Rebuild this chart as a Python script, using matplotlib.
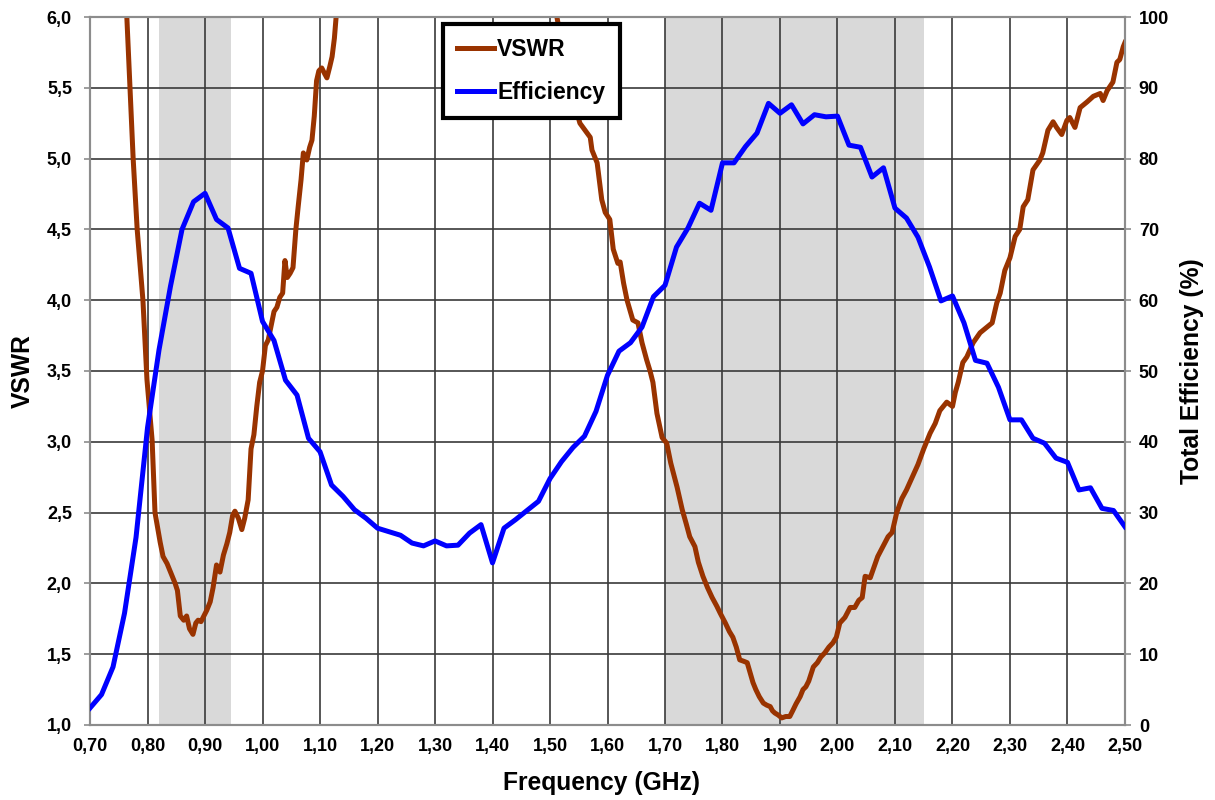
import numpy as np
import matplotlib
matplotlib.use('Agg')
import matplotlib.pyplot as plt
from matplotlib.ticker import FuncFormatter, MultipleLocator

plt.rcParams['font.family'] = ['Liberation Sans', 'DejaVu Sans']
plt.rcParams['font.weight'] = 'bold'

# VSWR (левая ось)
vswr_freq = [0.700, 0.730, 0.755, 0.764, 0.775, 0.782, 0.792, 0.799, 0.808, 0.813,
             0.822, 0.827, 0.834, 0.848, 0.852, 0.857, 0.863, 0.868, 0.873, 0.879,
             0.884, 0.888, 0.893, 0.903, 0.909, 0.914, 0.920, 0.926, 0.932, 0.938,
             0.943, 0.948, 0.952, 0.958, 0.964, 0.969, 0.975, 0.980, 0.985, 0.990,
             0.995, 1.000, 1.005, 1.010, 1.015, 1.020, 1.025, 1.030, 1.035, 1.039,
             1.043, 1.048, 1.053, 1.058, 1.062, 1.067, 1.071, 1.077, 1.082, 1.086,
             1.090, 1.094, 1.098, 1.103, 1.108, 1.112, 1.117, 1.121, 1.125, 1.128,
             1.140, 1.250, 1.400, 1.500, 1.512, 1.530, 1.545, 1.552, 1.561, 1.570,
             1.573, 1.582, 1.590, 1.596, 1.604, 1.610, 1.618, 1.622, 1.628, 1.634,
             1.644, 1.653, 1.660, 1.668, 1.674, 1.679, 1.686, 1.695, 1.703, 1.710,
             1.721, 1.730, 1.737, 1.743, 1.752, 1.758, 1.766, 1.774, 1.782, 1.790,
             1.796, 1.805, 1.812, 1.818, 1.824, 1.830, 1.837, 1.843, 1.848, 1.853,
             1.858, 1.864, 1.871, 1.877, 1.883, 1.887, 1.891, 1.897, 1.903, 1.910,
             1.917, 1.922, 1.928, 1.935, 1.940, 1.945, 1.950, 1.958, 1.965, 1.971,
             1.978, 1.985, 1.992, 1.998, 2.004, 2.013, 2.022, 2.030, 2.037, 2.043,
             2.048, 2.057, 2.064, 2.070, 2.079, 2.088, 2.095, 2.103, 2.112, 2.120,
             2.130, 2.140, 2.150, 2.161, 2.170, 2.178, 2.190, 2.200, 2.205, 2.210,
             2.218, 2.225, 2.236, 2.248, 2.260, 2.269, 2.277, 2.283, 2.291, 2.300,
             2.309, 2.317, 2.323, 2.331, 2.340, 2.352, 2.357, 2.366, 2.375, 2.381,
             2.390, 2.399, 2.404, 2.413, 2.422, 2.434, 2.445, 2.457, 2.462, 2.469,
             2.479, 2.486, 2.491, 2.497, 2.500]
vswr_vals = [9.50, 8.00, 6.70, 6.00, 5.00, 4.50, 4.00, 3.44, 3.01, 2.50,
             2.29, 2.19, 2.14, 2.00, 1.95, 1.77, 1.74, 1.77, 1.68, 1.64,
             1.72, 1.74, 1.73, 1.81, 1.87, 1.97, 2.13, 2.08, 2.20, 2.28,
             2.36, 2.48, 2.51, 2.46, 2.38, 2.46, 2.59, 2.95, 3.05, 3.25,
             3.42, 3.50, 3.68, 3.72, 3.82, 3.92, 3.95, 4.02, 4.05, 4.28,
             4.16, 4.19, 4.23, 4.50, 4.66, 4.85, 5.04, 4.99, 5.08, 5.13,
             5.30, 5.55, 5.62, 5.64, 5.60, 5.57, 5.65, 5.72, 5.85, 6.00,
             6.60, 9.00, 9.00, 6.30, 6.00, 5.60, 5.35, 5.25, 5.20, 5.15,
             5.06, 4.97, 4.71, 4.62, 4.57, 4.36, 4.26, 4.27, 4.12, 4.00,
             3.86, 3.84, 3.70, 3.58, 3.50, 3.42, 3.20, 3.03, 2.99, 2.85,
             2.68, 2.52, 2.42, 2.33, 2.26, 2.15, 2.05, 1.97, 1.90, 1.84,
             1.79, 1.72, 1.66, 1.62, 1.55, 1.46, 1.45, 1.44, 1.37, 1.30,
             1.25, 1.20, 1.155, 1.14, 1.13, 1.10, 1.085, 1.07, 1.05, 1.06,
             1.06, 1.10, 1.15, 1.20, 1.25, 1.27, 1.31, 1.41, 1.44, 1.48,
             1.51, 1.55, 1.58, 1.62, 1.72, 1.76, 1.83, 1.83, 1.88, 1.90,
             2.05, 2.04, 2.12, 2.19, 2.26, 2.33, 2.36, 2.50, 2.60, 2.66,
             2.75, 2.84, 2.95, 3.06, 3.13, 3.22, 3.28, 3.25, 3.35, 3.42,
             3.56, 3.60, 3.70, 3.77, 3.81, 3.84, 3.98, 4.05, 4.21, 4.30,
             4.45, 4.50, 4.66, 4.71, 4.92, 4.99, 5.04, 5.20, 5.26, 5.22,
             5.17, 5.27, 5.29, 5.22, 5.36, 5.40, 5.44, 5.46, 5.41, 5.48,
             5.54, 5.68, 5.70, 5.79, 5.82]

# КПД (правая ось), шаг 0.02 ГГц
eff_freq = np.linspace(0.70, 2.50, 91)
eff_vals = [2.4, 4.3, 8.2, 15.8, 26.5, 42.0, 53.0, 62.0, 70.0, 73.9,
            75.1, 71.4, 70.2, 64.5, 63.8, 57.0, 54.3, 48.7, 46.6, 40.5,
            38.6, 33.9, 32.3, 30.4, 29.2, 27.8, 27.3, 26.8, 25.7, 25.3,
            26.0, 25.3, 25.4, 27.1, 28.3, 22.9, 27.8, 29.0, 30.3, 31.6,
            34.8, 37.2, 39.2, 40.8, 44.3, 49.4, 52.8, 54.0, 56.2, 60.5,
            62.1, 67.5, 70.2, 73.7, 72.7, 79.4, 79.4, 81.7, 83.6, 87.8,
            86.4, 87.6, 84.9, 86.2, 85.9, 86.0, 81.9, 81.6, 77.4, 78.7,
            73.0, 71.6, 68.9, 64.7, 59.9, 60.6, 56.8, 51.5, 51.1, 47.7,
            43.1, 43.1, 40.5, 39.8, 37.7, 37.1, 33.2, 33.5, 30.6, 30.3,
            28.0]

# Полосы частот
bands = [(0.82, 0.945), (1.70, 2.15)]

comma = lambda fmt: FuncFormatter(lambda v, p: (fmt % v).replace('.', ','))

fig = plt.figure(figsize=(12.15, 8), dpi=100)
ax1 = fig.add_axes([0.0741, 0.09375, 0.8518, 0.885])
ax2 = ax1.twinx()

for a, b in bands:
    ax1.axvspan(a, b, color='#d9d9d9', lw=0, zorder=0)

l1, = ax1.plot(vswr_freq, vswr_vals, color='#993300', lw=3.6, label='VSWR', zorder=3)
l2, = ax2.plot(eff_freq, eff_vals, color='#0000ff', lw=3.6, label='Efficiency', zorder=3)

ax1.set_xlim(0.70, 2.50)
ax1.set_ylim(1.0, 6.0)
ax2.set_ylim(0, 100)

ax1.xaxis.set_major_locator(MultipleLocator(0.1))
ax1.yaxis.set_major_locator(MultipleLocator(0.5))
ax2.yaxis.set_major_locator(MultipleLocator(10))
ax1.xaxis.set_major_formatter(comma('%.2f'))
ax1.yaxis.set_major_formatter(comma('%.1f'))

ax1.grid(True, color='#3a3a3a', lw=1.2, zorder=1)
ax1.set_axisbelow(False)

for a in (ax1, ax2):
    for s in a.spines.values():
        s.set_color('#8c8c8c')
        s.set_linewidth(1.5)
ax1.tick_params(axis='y', length=4, width=1.2, color='#8c8c8c', labelsize=13, pad=9)
ax2.tick_params(axis='y', length=4, width=1.2, color='#8c8c8c', labelsize=13, pad=6)
ax1.tick_params(axis='x', length=0, labelsize=13, pad=9)

ax1.set_xlabel('Frequency (GHz)', fontsize=17.7, fontweight='bold', va='center', ha='center')
ax1.set_ylabel('VSWR', fontsize=17.7, fontweight='bold', va='center', ha='center')
ax2.set_ylabel('Total Efficiency (%)', fontsize=17.7, fontweight='bold', va='center', ha='center')
ax1.xaxis.set_label_coords(0.494, -0.082)
ax1.yaxis.set_label_coords(-0.0647, 0.5)
ax2.yaxis.set_label_coords(1.0647, 0.5)

leg = ax2.legend(handles=[l1, l2], loc='upper left', bbox_to_anchor=(0.341, 0.99),
                 borderaxespad=0, frameon=True, fancybox=False, framealpha=1,
                 handlelength=1.6, handletextpad=0.15, labelspacing=0.85,
                 borderpad=0.62, prop={'weight': 'bold', 'size': 16.5})
leg.get_frame().set_edgecolor('black')
leg.get_frame().set_linewidth(3)
leg.set_zorder(10)

plt.savefig('out.png', dpi=100)
